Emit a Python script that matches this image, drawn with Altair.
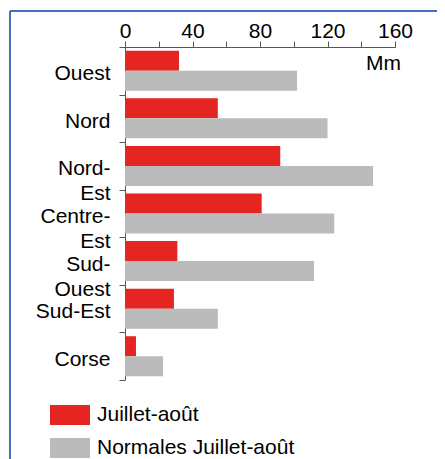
import altair as alt
import pandas as pd

regions = ["Ouest", "Nord", "Nord-Est", "Centre-Est", "Sud-Ouest", "Sud-Est", "Corse"]
juillet_aout = [32, 55, 92, 81, 31, 29, 6.5]
normales = [102, 120, 147, 124, 112, 55, 22.5]
series = ["Juillet-août", "Normales Juillet-août"]
x_ticks = [0, 20, 40, 60, 80, 100, 120, 140, 160]

rows = []
for r, a, n in zip(regions, juillet_aout, normales):
    rows.append({"region": r, "serie": series[0], "mm": a})
    rows.append({"region": r, "serie": series[1], "mm": n})
df = pd.DataFrame(rows)

FONT = "Liberation Sans"
FS = 21
label_expr = ("datum.label == 'Nord-Est' ? ['Nord-', 'Est'] : "
              "datum.label == 'Centre-Est' ? ['Centre-', 'Est'] : "
              "datum.label == 'Sud-Ouest' ? ['Sud-', 'Ouest'] : datum.label")

bars = alt.Chart(df).mark_bar(size=20).encode(
    x=alt.X("mm:Q", scale=alt.Scale(domain=[0, 160], nice=False),
            axis=alt.Axis(orient="top", values=x_ticks,
                          labelExpr="datum.value % 40 == 0 ? datum.label : ''",
                          title="Mm", titleX=258, titleY=16, titleAlign="center",
                          titleBaseline="middle", titleFontWeight="normal",
                          titleFont=FONT, titleFontSize=FS, titleColor="#000",
                          labelFont=FONT, labelFontSize=FS, labelColor="#000",
                          labelPadding=0, tickSize=6, tickColor="#555", domainColor="#555",
                          grid=False, labelFlush=False)),
    y=alt.Y("region:N", sort=regions,
            scale=alt.Scale(paddingInner=0, paddingOuter=0),
            axis=alt.Axis(title=None, labelExpr=label_expr, tickBand="extent",
                          labelFont=FONT, labelFontSize=FS, labelColor="#000",
                          labelBaseline="top", labelOffset=-8, labelLineHeight=25,
                          labelPadding=9, tickSize=6, tickColor="#555", domainColor="#555")),
    yOffset=alt.YOffset("serie:N", sort=series,
                        scale=alt.Scale(paddingInner=0, paddingOuter=0.19)),
    color=alt.Color("serie:N", sort=series,
                    scale=alt.Scale(domain=series, range=["#e52521", "#bbbbbb"]),
                    legend=alt.Legend(orient="none", legendX=-75, legendY=348, title=None,
                                      symbolType="M-1,-0.5H1V0.5H-1Z", symbolSize=1600,
                                      symbolStrokeWidth=0, symbolOpacity=1,
                                      labelFont=FONT, labelFontSize=FS, labelColor="#000",
                                      labelLimit=400, rowPadding=3, labelOffset=7)),
)

frame_top = alt.Chart(df).mark_rule(color="#4a6cc0", strokeWidth=1.5).encode(
    x=alt.value(-115), x2=alt.value(330), y=alt.value(-36))
frame_left = alt.Chart(df).mark_rule(color="#4a6cc0", strokeWidth=1.5).encode(
    x=alt.value(-115), y=alt.value(-36), y2=alt.value(420))

chart = alt.layer(frame_top, frame_left, bars).properties(
    width=270, height=333,
    background="white",
    autosize=alt.AutoSizeParams(type="none"),
    padding={"left": 117, "top": 39, "right": 42, "bottom": 80},
).configure_view(stroke=None)

chart.save("out.html", embed_options={"renderer": "svg", "actions": False})
